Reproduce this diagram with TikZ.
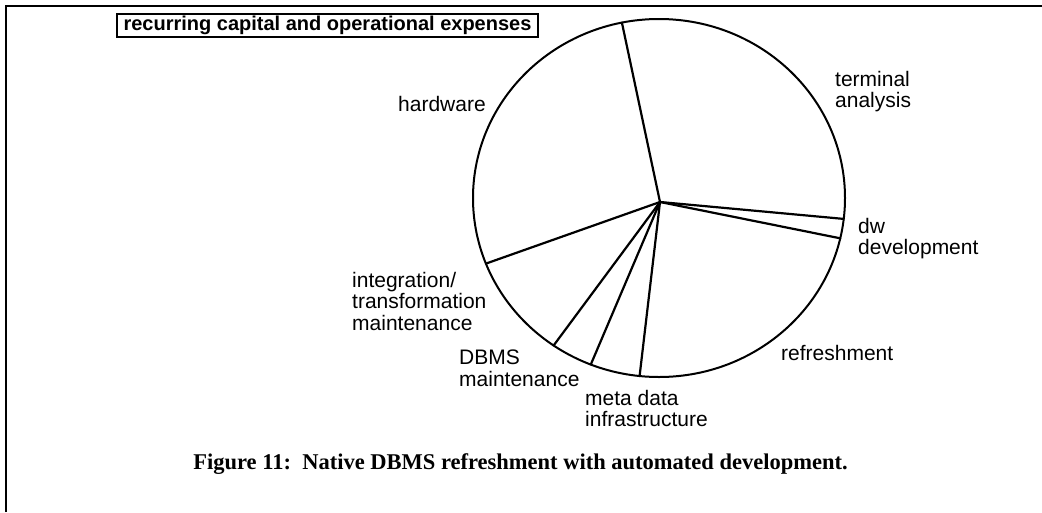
\documentclass[tikz,border=0pt]{standalone}
\usepackage{fontspec}
\setmainfont{Liberation Sans}
\newfontfamily\captionserif{Liberation Serif}
\begin{document}
\begin{tikzpicture}[x=1pt,y=-1pt,
  frame/.style={line width=2.4pt},
  rim/.style={line width=2pt},
  spoke/.style={line width=2.2pt, line cap=round},
  titlebox/.style={draw, line width=1.8pt, inner sep=0pt, minimum width=421pt,
    minimum height=23pt, font=\bfseries\fontsize{20}{20}\selectfont},
  lbl/.style={anchor=north west, inner sep=0pt, align=left,
    font=\fontsize{21}{21.5}\selectfont},
  captext/.style={anchor=base, inner sep=0pt,
    font=\captionserif\bfseries\fontsize{22.5}{23}\selectfont}]
\useasboundingbox (0,0) rectangle (1042,512);
\fill[white] (0,0) rectangle (1042,512);

% page frame (top and left rules)
\draw[frame] (6,512) -- (6,6) -- (1042,6);

% heading box
\node[titlebox] (title) at (327.5,25.5) {recurring capital and operational expenses};

% pie outline
\coordinate (c) at (659,198);
\draw[rim] (c) ellipse [x radius=186pt, y radius=179pt];

% slice boundaries
\coordinate (hub) at (660,202);
\coordinate (p1) at (621.9,22.6);
\coordinate (p2) at (843.7,218.9);
\coordinate (p3) at (840.2,238.3);
\coordinate (p4) at (639.6,376.0);
\coordinate (p5) at (590.8,364.5);
\coordinate (p6) at (553.6,345.5);
\coordinate (p7) at (485.9,263.6);
\foreach \p in {p1,p2,p3,p4,p5,p6,p7}
  \draw[spoke] (hub) -- (\p);

% slice labels
\node[lbl] (hw)    at (398,96)  {hardware};
\node[lbl] (term)  at (835,71)  {terminal\\analysis};
\node[lbl] (dw)    at (858,218) {dw\\development};
\node[lbl] (refr)  at (781,345) {refreshment};
\node[lbl] (integ) at (352,272) {integration/\\transformation\\maintenance};
\node[lbl] (dbms)  at (459,350) {DBMS\\maintenance};
\node[lbl] (meta)  at (585,390) {meta data\\infrastructure};

% caption
\node[captext] (cap) at (520.5,469) {Figure 11:\ \ Native DBMS refreshment with automated development.};
\end{tikzpicture}
\end{document}
